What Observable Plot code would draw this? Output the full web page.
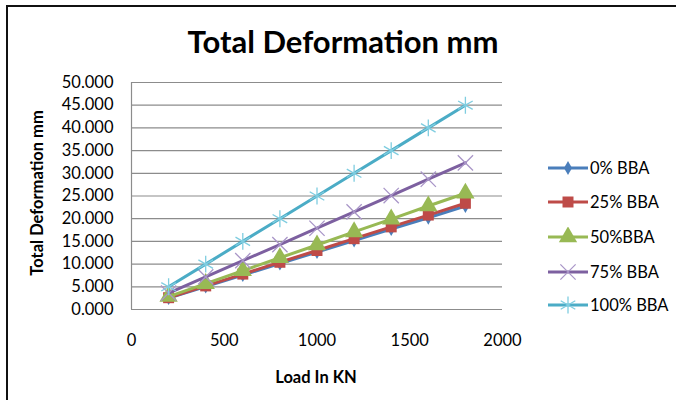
<!DOCTYPE html>
<html><head><meta charset="utf-8">
<script src="https://cdn.jsdelivr.net/npm/d3@7"></script>
<script src="https://cdn.jsdelivr.net/npm/@observablehq/plot@0.6"></script>
<style>
body{margin:0;background:#fff;font-family:Lato,"Open Sans",sans-serif;}
#wrap{position:relative;width:676px;height:400px;overflow:hidden;background:#fff;}
#chart svg{position:absolute;left:0;top:0;}
.frame{position:absolute;left:6px;top:5px;width:680px;height:400px;border-top:2px solid #111;border-left:2px solid #111;box-sizing:border-box;}
.title{position:absolute;left:343px;top:26px;transform:translateX(-50%);font-size:31px;line-height:31px;font-weight:bold;white-space:nowrap;color:#000;}
.ylab{position:absolute;left:-63px;top:183px;width:200px;height:20px;line-height:20px;text-align:center;transform:rotate(-90deg);font-size:16.5px;font-weight:bold;white-space:nowrap;}
.xlab{position:absolute;left:216px;top:367px;width:200px;height:20px;line-height:20px;text-align:center;font-size:16.5px;font-weight:bold;white-space:nowrap;}
.legend{position:absolute;left:546px;top:0;}
.legend .row{position:absolute;left:0;height:20px;display:flex;align-items:center;white-space:nowrap;font-size:16.5px;}
.legend svg{display:block;margin-right:1px;}
</style></head>
<body>
<div id="wrap">
  <div id="chart"></div>
  <div class="frame"></div>
  <div class="title">Total Deformation mm</div>
  <div class="ylab">Total Deformation mm</div>
  <div class="xlab">Load In KN</div>
  <div class="legend" id="legend"></div>
</div>
<script>
const loads = [200, 400, 600, 800, 1000, 1200, 1400, 1600, 1800];
const bba0   = [2.5, 5.05, 7.6, 10.1, 12.65, 15.2, 17.7, 20.2, 22.8];
const bba25  = [2.6, 5.2, 7.8, 10.4, 13.0, 15.6, 18.2, 20.8, 23.4];
const bba50  = [2.85, 5.7, 8.55, 11.4, 14.2, 17.1, 19.9, 22.8, 25.6];
const bba75  = [3.6, 7.2, 10.75, 14.3, 17.9, 21.5, 25.1, 28.7, 32.3];
const bba100 = [5, 10, 15, 20, 25, 30, 35, 40, 45];
const seriesNames = ["0% BBA", "25% BBA", "50%BBA", "75% BBA", "100% BBA"];
const seriesValues = [bba0, bba25, bba50, bba75, bba100];
const yTicks = [0, 5, 10, 15, 20, 25, 30, 35, 40, 45, 50];
const xTicks = [0, 500, 1000, 1500, 2000];

const colors = ["#4a7ebb", "#be4b48", "#98b954", "#7d60a0", "#4bacc6"];
const markerStroke = ["#4a7ebb", "#be4b48", "#98b954", "#a996c8", "#7fcde0"];
const symbols = ["diamond", "square", "triangle", "times", "asterisk"];
const radii = [4.2, 6.2, 6.8, 7, 8];
const filled = [true, true, true, false, false];

const rows = [];
seriesNames.forEach((s, i) => loads.forEach((x, j) => rows.push({series: s, idx: i, load: x, value: seriesValues[i][j]})));

const marks = [
  Plot.ruleY(yTicks, {stroke: "#8c8c8c", strokeWidth: 1.2}),
  Plot.ruleX([0], {stroke: "#8c8c8c", strokeWidth: 1.2}),
  Plot.axisY({ticks: yTicks, tickFormat: d3.format(".3f"), tickSize: 0, tickPadding: 18, label: null, fill: "#000"}),
  Plot.axisX({ticks: xTicks, tickFormat: d => String(d), tickSize: 0, tickPadding: 25, label: null, fill: "#000"})
];
seriesNames.forEach((s, i) => {
  const data = rows.filter(r => r.idx === i);
  marks.push(Plot.line(data, {x: "load", y: "value", stroke: colors[i], strokeWidth: 3, curve: "linear"}));
  marks.push(Plot.dot(data, {
    x: "load", y: "value", symbol: symbols[i], r: radii[i],
    fill: filled[i] ? colors[i] : "none",
    stroke: markerStroke[i], strokeWidth: filled[i] ? 0 : 1.3
  }));
});

const plot = Plot.plot({
  width: 676, height: 400,
  marginLeft: 131, marginRight: 174, marginTop: 82, marginBottom: 91,
  x: {domain: [0, 2000]},
  y: {domain: [0, 50]},
  style: {fontFamily: "Lato, 'Open Sans', sans-serif", fontSize: "16.5px", color: "#000", background: "transparent"},
  marks
});
document.getElementById("chart").appendChild(plot);

// legend
const legend = document.getElementById("legend");
const rowY = [168, 202, 237, 272, 305];
seriesNames.forEach((s, i) => {
  const row = document.createElement("div");
  row.className = "row";
  row.style.top = (rowY[i] - 10) + "px";
  const ns = "http://www.w3.org/2000/svg";
  const svg = document.createElementNS(ns, "svg");
  svg.setAttribute("width", 43); svg.setAttribute("height", 20);
  const ln = document.createElementNS(ns, "line");
  ln.setAttribute("x1", 2); ln.setAttribute("x2", 42); ln.setAttribute("y1", 10); ln.setAttribute("y2", 10);
  ln.setAttribute("stroke", colors[i]); ln.setAttribute("stroke-width", 3);
  svg.appendChild(ln);
  const symMap = {diamond: d3.symbolDiamond, square: d3.symbolSquare, triangle: d3.symbolTriangle, times: d3.symbolTimes, asterisk: d3.symbolAsterisk};
  const p = document.createElementNS(ns, "path");
  p.setAttribute("d", d3.symbol(symMap[symbols[i]], Math.PI * radii[i] * radii[i])());
  p.setAttribute("transform", "translate(22,10)");
  p.setAttribute("fill", filled[i] ? colors[i] : "none");
  p.setAttribute("stroke", filled[i] ? "none" : markerStroke[i]);
  p.setAttribute("stroke-width", 1.3);
  svg.appendChild(p);
  row.appendChild(svg);
  const t = document.createElement("span");
  t.textContent = s;
  row.appendChild(t);
  legend.appendChild(row);
});
</script>
</body></html>
